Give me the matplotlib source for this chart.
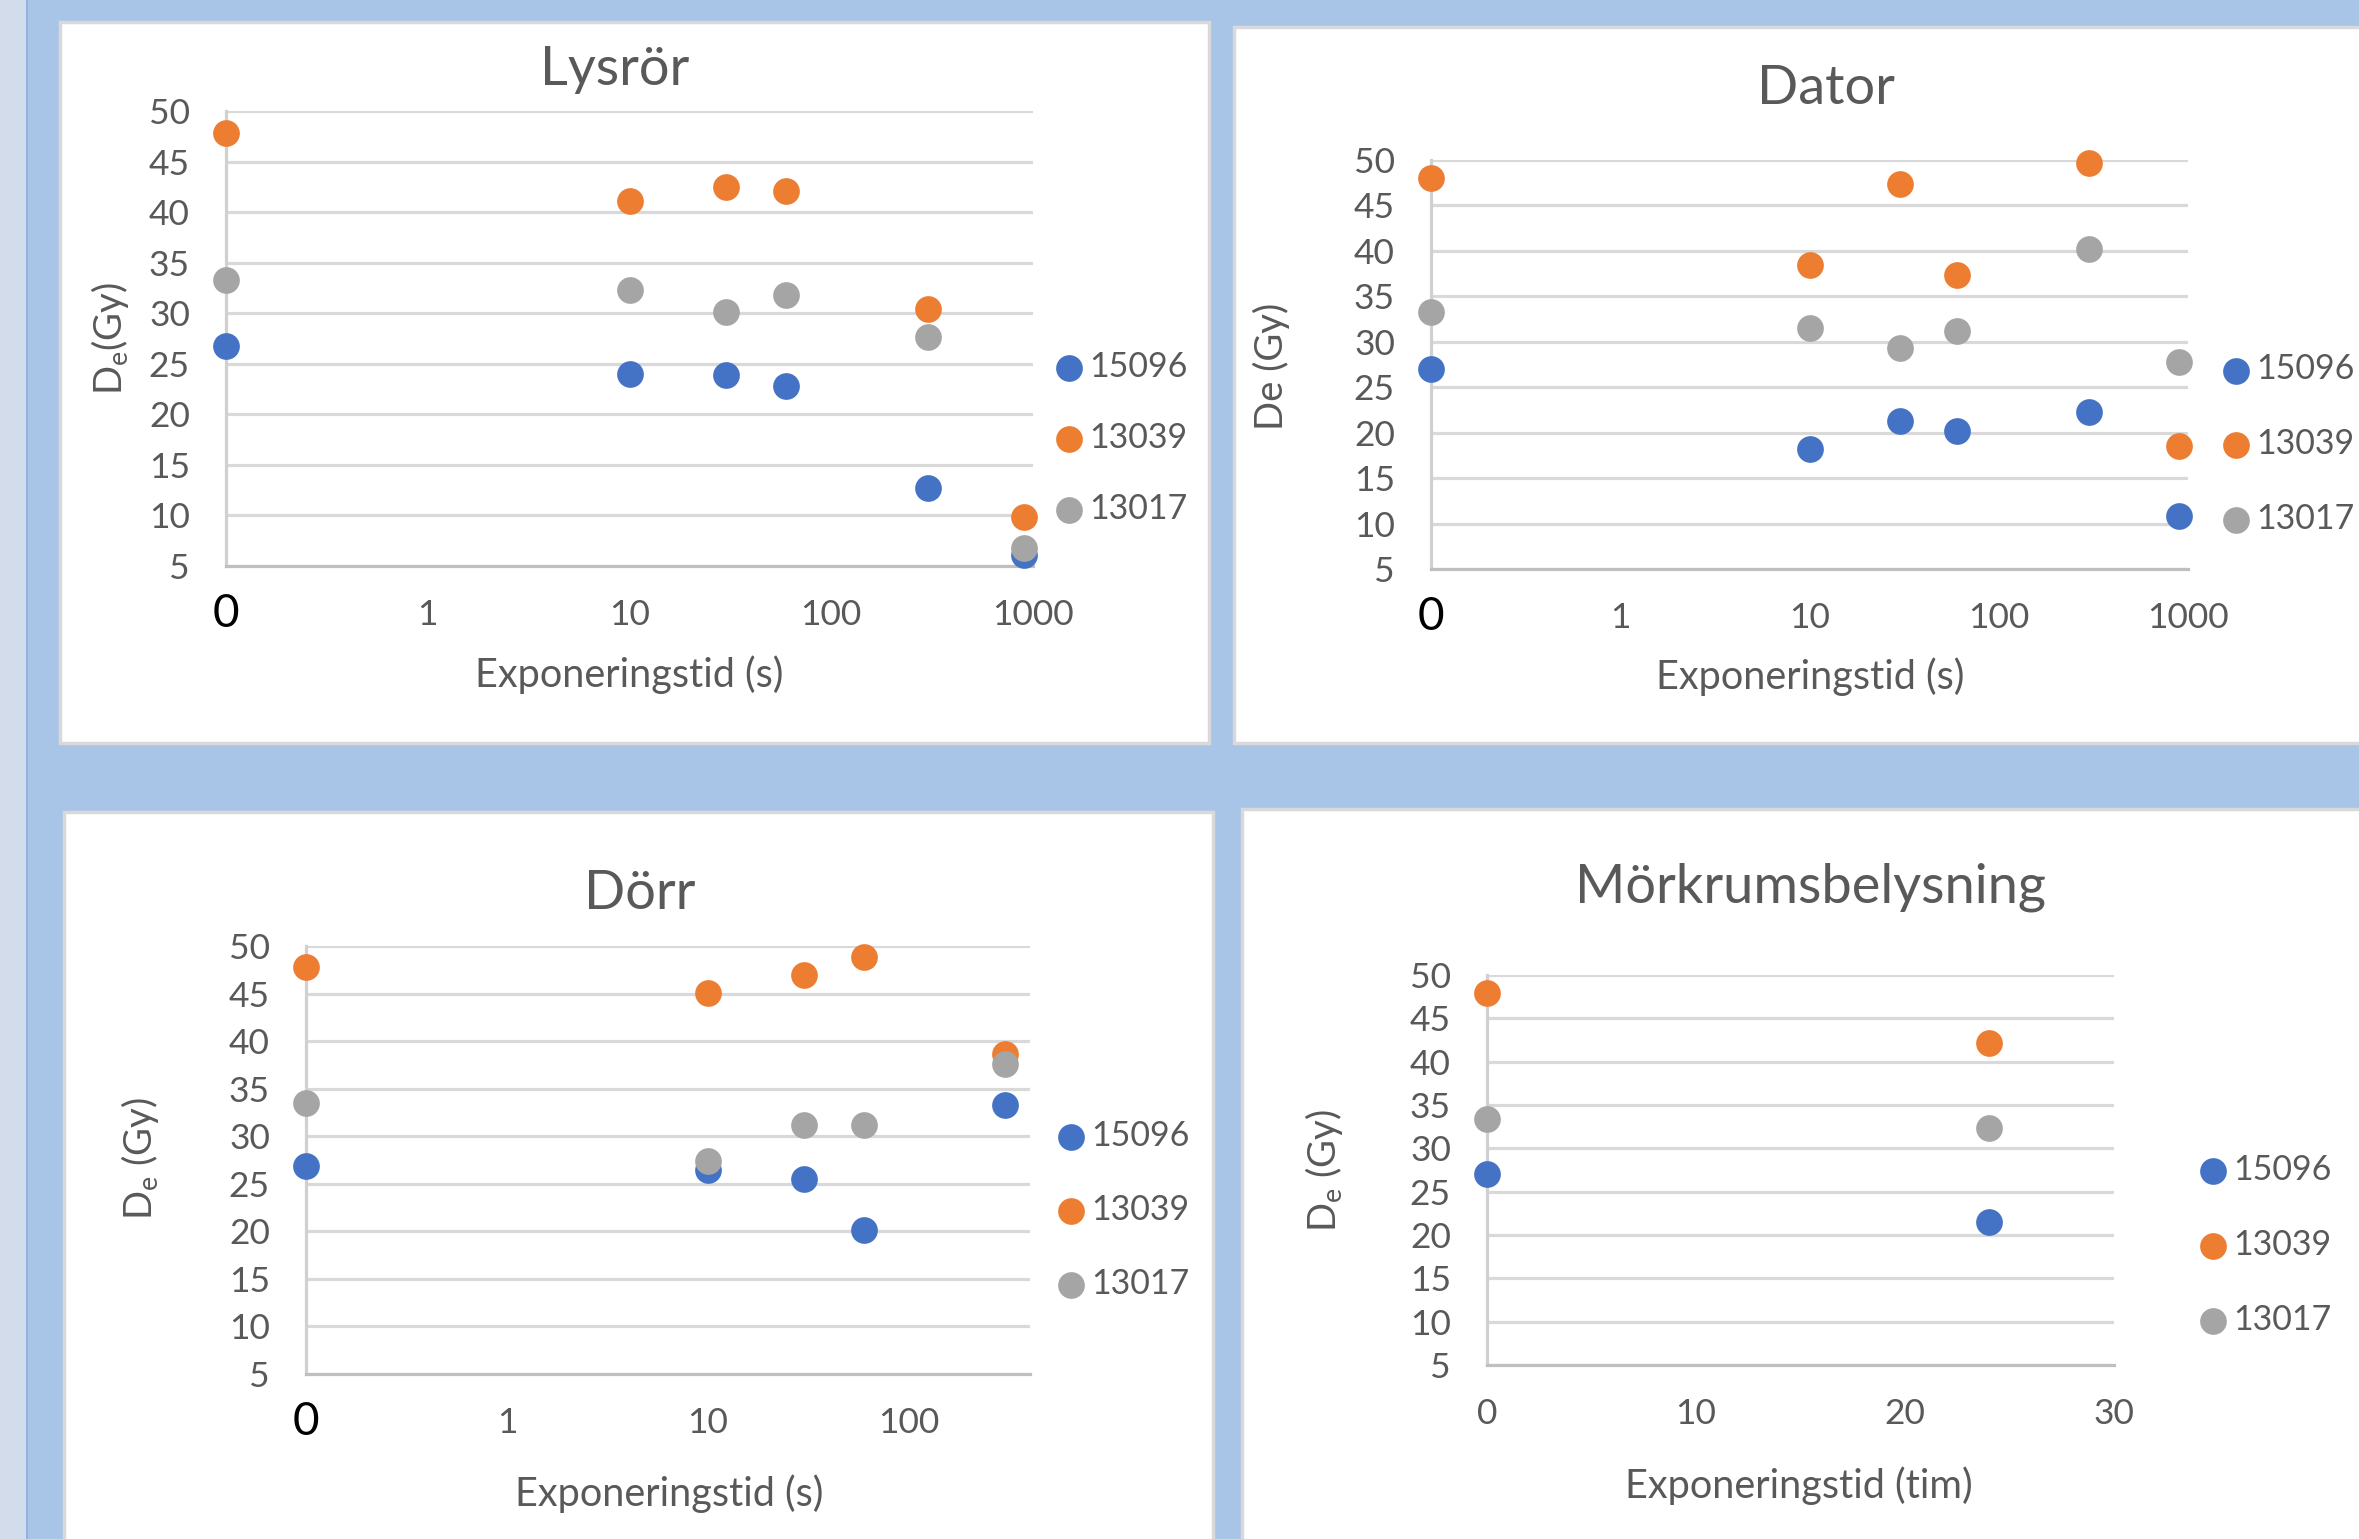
# -*- coding: utf-8 -*-
import matplotlib
matplotlib.use('Agg')
import matplotlib.pyplot as plt
from matplotlib.patches import Rectangle

plt.rcParams['font.family'] = ['Lato', 'DejaVu Sans']
plt.rcParams['mathtext.fontset'] = 'custom'
plt.rcParams['mathtext.rm'] = 'Lato'

# ---- data ----
series_names = ['15096', '13039', '13017']
series_colors = ['#4472C4', '#ED7D31', '#A5A5A5']

# Lysrör, exposure time (s); 0 s is drawn at 0.1 on the log axis
lys_x = [0.1, 10, 30, 60, 300, 900]
lys_15096 = [26.8, 24.0, 23.9, 22.8, 12.7, 6.1]
lys_13039 = [47.8, 41.1, 42.5, 42.1, 30.4, 9.8]
lys_13017 = [33.3, 32.3, 30.1, 31.8, 27.6, 6.8]

# Dator
dat_x = [0.1, 10, 30, 60, 300, 900]
dat_15096 = [27.0, 18.2, 21.3, 20.2, 22.3, 10.8]
dat_13039 = [48.0, 38.5, 47.4, 37.3, 49.7, 18.5]
dat_13017 = [33.3, 31.5, 29.3, 31.2, 40.2, 27.8]

# Dörr
dor_x = [0.1, 10, 30, 60, 300]
dor_15096 = [26.9, 26.5, 25.5, 20.1, 33.3]
dor_13039 = [47.8, 45.1, 47.0, 48.8, 38.6]
dor_13017 = [33.5, 27.4, 31.2, 31.2, 37.6]

# Mörkrumsbelysning, exposure time (tim)
mor_x = [0, 24]
mor_15096 = [27.0, 21.5]
mor_13039 = [47.9, 42.2]
mor_13017 = [33.4, 32.4]

log_ticks = [0.1, 1, 10, 100, 1000]
log_ticklabels = ['', '1', '10', '100', '1000']
lin_ticks = [0, 10, 20, 30]
y_ticks = list(range(5, 55, 5))

# ---- figure ----
W, H = 2359, 1539
fig = plt.figure(figsize=(W / 100, H / 100), dpi=100)
fig.patch.set_facecolor('#A8C4E6')

TXT = '#595959'


def fbox(x0, y0, x1, y1):
    return [x0 / W, 1 - y1 / H, (x1 - x0) / W, (y1 - y0) / H]


def fpt(x, y):
    return x / W, 1 - y / H


# left light strip
fig.patches.append(Rectangle((0, 0), 26 / W, 1, transform=fig.transFigure,
                             facecolor='#D2DCEA', edgecolor='none', zorder=-3))
fig.patches.append(Rectangle((26 / W, 0), 2 / W, 1, transform=fig.transFigure,
                             facecolor='#8FB1DD', edgecolor='none', zorder=-3))

panels = [(60, 22, 1209, 743), (1234, 27, 2380, 743),
          (64, 812, 1213, 1580), (1242, 809, 2380, 1580)]
for p in panels:
    x0, y0, x1, y1 = p
    fig.patches.append(Rectangle(((x0) / W, 1 - y1 / H), (x1 - x0) / W, (y1 - y0) / H,
                                 transform=fig.transFigure, facecolor='white',
                                 edgecolor='#D9D9D9', lw=2.5, zorder=-2))


def make_chart(box, xs, ys_list, title, title_pos, xlabel, xlabel_pos, ylabel,
               ylabel_pos, leg_pos, leg_space, logx=True, xmax=1000):
    ax = fig.add_axes(fbox(*box))
    ax.set_facecolor('none')
    for ys, name, col in zip(ys_list, series_names, series_colors):
        ax.scatter(xs, ys, s=370, color=col, label=name, zorder=3,
                   clip_on=False, linewidths=0)
    if logx:
        ax.set_xscale('log')
        ticks = [t for t in log_ticks if t <= xmax]
        ax.set_xticks(ticks)
        ax.set_xticklabels(log_ticklabels[:len(ticks)])
        ax.minorticks_off()
        ax.set_xlim(0.1, xmax)
        ax.annotate('0', xy=(0.1, 0), xycoords=('data', 'axes fraction'),
                    xytext=(0, -44), textcoords='offset points', ha='center',
                    va='baseline', fontsize=33, color='black')
    else:
        ax.set_xticks(lin_ticks)
        ax.set_xlim(0, 30)
    ax.set_ylim(5, 50)
    ax.set_yticks(y_ticks)
    ax.grid(axis='y', color='#D9D9D9', lw=2.3, zorder=0)
    ax.set_axisbelow(True)
    for s in ['top', 'right']:
        ax.spines[s].set_visible(False)
    ax.spines['left'].set_color('#D0D0D0')
    ax.spines['left'].set_linewidth(2.3)
    ax.spines['bottom'].set_color('#BFBFBF')
    ax.spines['bottom'].set_linewidth(2.3)
    ax.tick_params(axis='both', length=0, labelsize=25.5, labelcolor=TXT)
    ax.tick_params(axis='y', pad=26)
    ax.tick_params(axis='x', pad=24)

    tx, ty = fpt(*title_pos)
    fig.text(tx, ty, title, ha='center', va='baseline', fontsize=39, color=TXT)
    lx, ly = fpt(*xlabel_pos)
    fig.text(lx, ly, xlabel, ha='center', va='baseline', fontsize=28.5, color=TXT)
    yx, yy = fpt(*ylabel_pos)
    fig.text(yx, yy, ylabel, ha='center', va='center', rotation=90,
             fontsize=27.5, color=TXT)

    gx, gy = fpt(leg_pos[0] - 30, leg_pos[1])
    leg = ax.legend(loc='center left', bbox_to_anchor=(gx, gy),
                    bbox_transform=fig.transFigure, frameon=False, fontsize=24.5,
                    borderpad=0, handlelength=0.8, handletextpad=0.2,
                    labelspacing=leg_space, scatterpoints=1)
    for t in leg.get_texts():
        t.set_color(TXT)
    return ax


make_chart((226, 111, 1033, 566), lys_x, [lys_15096, lys_13039, lys_13017],
           'Lysrör', (615, 85), 'Exponeringstid (s)', (629, 687),
           r'D$_\mathregular{e}$(Gy)', (110, 338), (1068, 438), 1.14)

make_chart((1431, 160, 2188, 569), dat_x, [dat_15096, dat_13039, dat_13017],
           'Dator', (1826, 104), 'Exponeringstid (s)', (1810, 689),
           'De (Gy)', (1271, 366), (2235, 444), 1.25)

make_chart((306, 946, 1030, 1374), dor_x, [dor_15096, dor_13039, dor_13017],
           'Dörr', (640, 909), 'Exponeringstid (s)', (669, 1506),
           r'D$_\mathregular{e}$ (Gy)', (140, 1159), (1070, 1210), 1.23,
           xmax=400)

make_chart((1487, 975, 2114, 1365), mor_x, [mor_15096, mor_13039, mor_13017],
           'Mörkrumsbelysning', (1810, 902), 'Exponeringstid (tim)', (1799, 1498),
           r'D$_\mathregular{e}$ (Gy)', (1324, 1171), (2212, 1245), 1.26,
           logx=False)

fig.savefig('out.png', dpi=100, facecolor=fig.get_facecolor())
